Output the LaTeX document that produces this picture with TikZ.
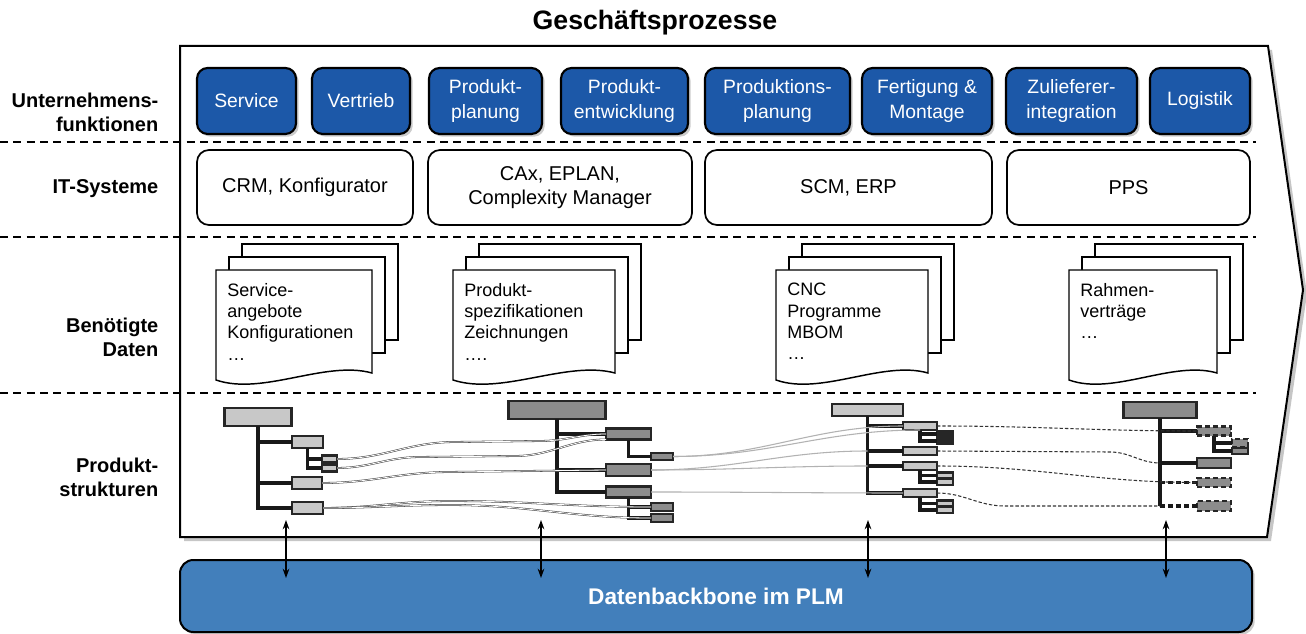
\documentclass[tikz,border=0pt]{standalone}
\usepackage{fontspec}
\setmainfont{Liberation Sans}
\usetikzlibrary{arrows.meta, shadows, calc, positioning}
\definecolor{fblau}{RGB}{28,88,168}
\definecolor{pblau}{RGB}{66,127,187}
\definecolor{hellgrau}{RGB}{200,200,200}
\definecolor{dunkelgrau}{RGB}{140,140,140}

\begin{document}
\begin{tikzpicture}[x=0.75pt,y=-0.75pt,
    groesse/.style 2 args={minimum width=#1*0.75, minimum height=#2*0.75},
    funktion/.style={draw=black, line width=1.6pt, fill=fblau, rounded corners=8pt, text=white, align=center, inner sep=0pt, font=\fontsize{14.5}{18.5}\selectfont, drop shadow={shadow xshift=2pt, shadow yshift=-2pt, opacity=0.4}},
    system/.style={draw=black, line width=1.3pt, fill=white, rounded corners=9pt, align=center, inner sep=0pt, font=\fontsize{15}{18}\selectfont},
    zeile/.style={anchor=east, align=right, font=\fontsize{15}{18}\selectfont\bfseries},
    trenn/.style={dash pattern=on 6pt off 4pt, line width=1.3pt},
    blatt/.style={draw=black, line width=1.1pt, fill=white},
    dokutext/.style={anchor=north west, align=left, inner sep=0pt, font=\fontsize{13.5}{16}\selectfont},
    hell/.style={draw=black!85, line width=1.7pt, fill=hellgrau, inner sep=0pt, outer sep=0pt},
    dunkel/.style={hell, fill=dunkelgrau},
    strich/.style={dash pattern=on 4pt off 2pt},
    ast/.style={line width=2.6pt, black!90},
    doppel/.style={draw=black!75, double=white, double distance=0.6pt, line width=0.4pt},
    grau/.style={draw=black!30, line width=0.8pt},
    gestr/.style={draw=black!80, line width=0.8pt, dash pattern=on 2.5pt off 1.5pt},
    pfeil/.style={{Stealth[length=7pt,width=5pt]}-{Stealth[length=7pt,width=5pt]}, line width=0.9pt}]

    \useasboundingbox (0,0) rectangle (1306,634);

    % Titel
    \node[font=\fontsize{20}{24}\selectfont\bfseries] (titel) at (655,23) {Geschäftsprozesse};

    % Prozesspfeil
    \draw[line width=1.5pt, fill=white, drop shadow={shadow xshift=3pt, shadow yshift=-3pt, opacity=0.45}]
        (180,46) -- (1268,46) -- (1303,290) -- (1267,537) -- (180,537) -- cycle;

    % Trennlinien
    \draw[trenn] (0,142) -- (1256,142);
    \draw[trenn] (0,237) -- (1256,237);
    \draw[trenn] (0,393) -- (1256,393);

    % Zeilenbeschriftung
    \node[zeile] (z1) at (163,112) {Unternehmens-\\funktionen};
    \node[zeile] (z2) at (163,189) {IT-Systeme};
    \node[zeile] (z3) at (163,337) {Benötigte\\Daten};
    \node[zeile] (z4) at (163,477) {Produkt-\\strukturen};

    % Unternehmensfunktionen
    \node[funktion, groesse={99}{66}] (f1) at (246.5,101) {Service};
    \node[funktion, groesse={98}{66}] (f2) at (361,101) {Vertrieb};
    \node[funktion, groesse={113}{66}] (f3) at (485.5,101) {Produkt-\\planung};
    \node[funktion, groesse={127}{66}] (f4) at (624.5,101) {Produkt-\\entwicklung};
    \node[funktion, groesse={145}{66}] (f5) at (777.5,101) {Produktions-\\planung};
    \node[funktion, groesse={130}{66}] (f6) at (927,101) {Fertigung \&\\Montage};
    \node[funktion, groesse={131}{66}] (f7) at (1071.5,101) {Zulieferer-\\integration};
    \node[funktion, groesse={100}{66}] (f8) at (1200,101) {Logistik};

    % IT-Systeme
    \node[system, groesse={216}{75}] (s1) at (305,187.5) {CRM, Konfigurator};
    \node[system, groesse={264}{75}] (s2) at (560,187.5) {CAx, EPLAN,\\Complexity Manager};
    \node[system, groesse={287}{75}] (s3) at (848.5,187.5) {SCM, ERP};
    \node[system, groesse={243}{75}] (s4) at (1128.5,187.5) {PPS};

    % Benoetigte Daten
    \foreach \x/\w/\n/\txt in {216/156/d1/{Service-\\angebote\\Konfigurationen\\\ldots},
                              453/162/d2/{Produkt-\\spezifikationen\\Zeichnungen\\\ldots.},
                              776/152/d3/{CNC\\Programme\\MBOM\\\ldots},
                              1069/148/d4/{Rahmen-\\verträge\\\ldots}} {
        \draw[blatt] (\x+26,244) rectangle (\x+26+\w,340);
        \draw[blatt] (\x+13,257) rectangle (\x+13+\w,353);
        \draw[blatt] (\x,380) -- (\x,270) -- (\x+\w,270) -- (\x+\w,373)
            .. controls (\x+0.7*\w,360) and (\x+0.3*\w,396) .. (\x,380) -- cycle;
        \node[dokutext] (\n) at (\x+11,283) {\txt};
    }

    % Produktstruktur 1
    \node[hell, groesse={67}{18}] (t1r) at (258,417) {};
    \node[hell, groesse={31}{12}] (t1a) at (307.5,442) {};
    \node[hell, groesse={15}{7}] (t1a1) at (329.5,459) {};
    \node[hell, groesse={15}{7}] (t1a2) at (329.5,468) {};
    \node[hell, groesse={30}{12}] (t1b) at (307,483) {};
    \node[hell, groesse={31}{12}] (t1c) at (307.5,508) {};
    \draw[ast] (t1r.south) |- (t1c.west);
    \draw[ast] (t1r.south |- t1a.west) -- (t1a.west);
    \draw[ast] (t1r.south |- t1b.west) -- (t1b.west);
    \draw[ast] (t1a.south) |- (t1a2.west);
    \draw[ast] (t1a.south |- t1a1.west) -- (t1a1.west);

    % Produktstruktur 2
    \node[dunkel, groesse={97}{18}] (t2r) at (557,410) {};
    \node[dunkel, groesse={45}{11}] (t2a) at (628.5,434) {};
    \node[dunkel, groesse={22}{7}] (t2a1) at (662,456.5) {};
    \node[dunkel, groesse={45}{12}] (t2b) at (628.5,470) {};
    \node[dunkel, groesse={45}{11}] (t2c) at (628.5,492) {};
    \node[dunkel, groesse={22}{8}] (t2c1) at (662,507) {};
    \node[dunkel, groesse={22}{8}] (t2c2) at (662,518) {};
    \draw[ast] (t2r.south) |- (t2c.west);
    \draw[ast] (t2r.south |- t2a.west) -- (t2a.west);
    \draw[ast] (t2r.south |- t2b.west) -- (t2b.west);
    \draw[ast] (t2a.south) |- (t2a1.west);
    \draw[ast] (t2c.south) |- (t2c2.west);
    \draw[ast] (t2c.south |- t2c1.west) -- (t2c1.west);

    % Produktstruktur 3
    \node[hell, groesse={71}{12}] (t3r) at (867.5,410) {};
    \node[hell, groesse={34}{8}] (t3a) at (920,426) {};
    \node[hell, fill=black!85, groesse={16}{6}] (t3a1) at (945,434) {};
    \node[hell, fill=black!85, groesse={16}{6}] (t3a2) at (945,441) {};
    \node[hell, groesse={34}{8}] (t3b) at (920,451) {};
    \node[hell, groesse={34}{8}] (t3c) at (920,466) {};
    \node[hell, groesse={16}{6}] (t3c1) at (945,475.5) {};
    \node[hell, groesse={16}{6}] (t3c2) at (945,482) {};
    \node[hell, groesse={34}{8}] (t3d) at (920,493) {};
    \node[hell, groesse={16}{6}] (t3d1) at (945,503.5) {};
    \node[hell, groesse={16}{6}] (t3d2) at (945,510) {};
    \draw[ast] (t3r.south) |- (t3d.west);
    \draw[ast] (t3r.south |- t3a.west) -- (t3a.west);
    \draw[ast] (t3r.south |- t3b.west) -- (t3b.west);
    \draw[ast] (t3r.south |- t3c.west) -- (t3c.west);
    \draw[ast] (t3a.south) |- (t3a2.west);
    \draw[ast] (t3a.south |- t3a1.west) -- (t3a1.west);
    \draw[ast] (t3c.south) |- (t3c2.west);
    \draw[ast] (t3c.south |- t3c1.west) -- (t3c1.west);
    \draw[ast] (t3d.south) |- (t3d2.west);
    \draw[ast] (t3d.south |- t3d1.west) -- (t3d1.west);

    % Produktstruktur 4
    \node[dunkel, groesse={73}{16}] (t4r) at (1160,410) {};
    \node[dunkel, strich, groesse={34}{9}] (t4a) at (1214,431) {};
    \node[dunkel, strich, groesse={16}{8}] (t4a1) at (1240,443) {};
    \node[dunkel, groesse={16}{6}] (t4a2) at (1240,451) {};
    \node[dunkel, groesse={34}{10}] (t4b) at (1214,463) {};
    \node[dunkel, strich, groesse={34}{9}] (t4c) at (1214,482.5) {};
    \node[dunkel, strich, groesse={34}{10}] (t4d) at (1214,506) {};
    \draw[ast] (t4r.south) -- (t4r.south |- t4d.west);
    \draw[ast] (t4r.south |- t4a.west) -- (t4a.west);
    \draw[ast] (t4r.south |- t4b.west) -- (t4b.west);
    \draw[ast, strich] (t4r.south |- t4c.west) -- (t4c.west);
    \draw[ast, strich] (t4r.south |- t4d.west) -- (t4d.west);
    \draw[ast] (t4a.south) |- (t4a2.west);
    \draw[ast] (t4a.south |- t4a1.west) -- (t4a1.west);

    % Zuordnungen 1 -> 2
    \draw[doppel] (t1a1.east) to[out=0,in=180] (455,442) -- (540,441) to[out=0,in=180] (t2a.west);
    \draw[doppel] (t1a2.east) to[out=0,in=180] (420,457) -- (515,456) to[out=0,in=180] (t2a.south west);
    \draw[doppel] (t1b.east) to[out=0,in=180] (450,472) -- (t2b.west);
    \draw[doppel] (t1c.east) to[out=0,in=180] (450,501) to[out=0,in=180] (t2c1.west);
    \draw[doppel] (t1c.east) to[out=0,in=180] (450,505) to[out=0,in=180] (t2c2.west);

    % Zuordnungen 2 -> 3
    \draw[grau] (t2a1.east) to[out=0,in=180] (t3a.west);
    \draw[grau] (t2a1.east) to[out=0,in=180] (t3a.south);
    \draw[grau] (t2b.east) to[out=0,in=180] (t3r.south |- t3b.west);
    \draw[grau] (t2b.east) to[out=0,in=180] (t3r.south |- t3c.west);
    \draw[grau] (t2c.east) to[out=0,in=180] (t3d.west);

    % Zuordnungen 3 -> 4
    \draw[gestr] (t3a.east) to[out=0,in=180] (t4a.west);
    \draw[gestr] (t3b.east) -- (1110,452) to[out=0,in=180] (t4r.south |- t4b.west);
    \draw[gestr] (t3c.east) to[out=0,in=180] (t4c.west);
    \draw[gestr] (t3d.east) to[out=0,in=180] (1005,506) -- (t4r.south |- t4d.west);

    % Datenbackbone
    \node[draw=black, line width=1.5pt, fill=pblau, rounded corners=10pt, groesse={1072}{72},
          text=white, font=\fontsize{17}{20}\selectfont\bfseries,
          drop shadow={shadow xshift=2pt, shadow yshift=-2pt, opacity=0.4}] (plm) at (716,596) {Datenbackbone im PLM};

    % Pfeile
    \foreach \x [count=\i] in {286,541,868,1166} {
        \coordinate (o\i) at (\x,520);
        \coordinate (u\i) at (\x,578);
        \draw[pfeil] (o\i) -- (u\i);
    }

\end{tikzpicture}
\end{document}
